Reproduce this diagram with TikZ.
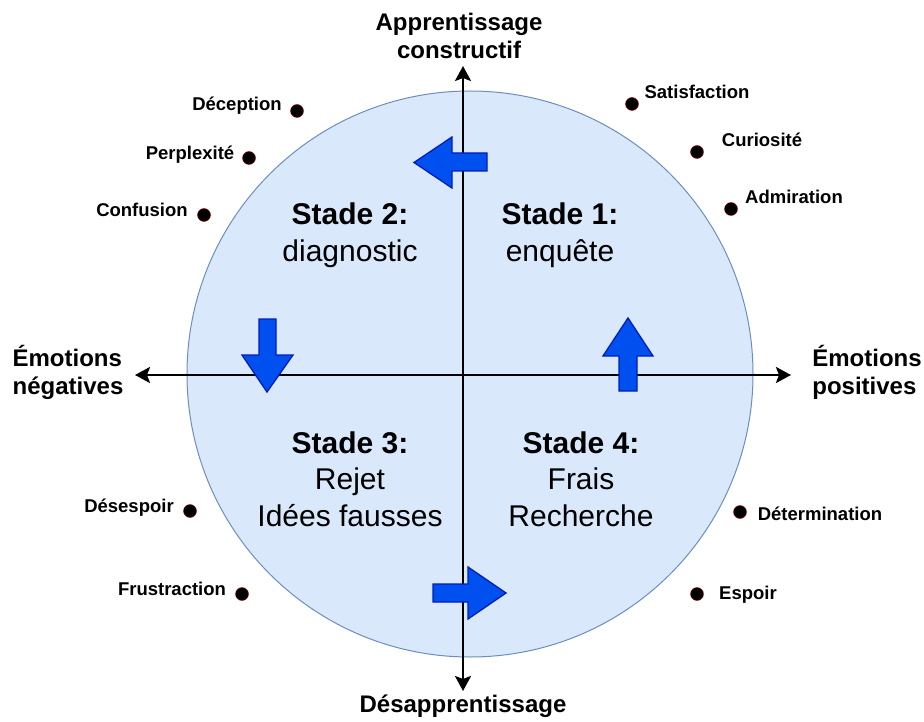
\documentclass[tikz,border=0pt]{standalone}
\usepackage{fontspec}
\setmainfont{Liberation Sans}
\usetikzlibrary{arrows.meta}
\definecolor{circfill}{HTML}{DAE8FC}
\definecolor{circline}{HTML}{6C8EBF}
\definecolor{arrfill}{HTML}{0050EF}
\definecolor{arrline}{HTML}{001DBC}
\definecolor{dotline}{HTML}{B20000}
\tikzset{
  axisline/.style={line width=2.6pt, -{Stealth[length=15pt,width=16pt,inset=3pt]}},
  blockarrow/.style={fill=arrfill, draw=arrline, line width=1.3pt, line join=miter},
  emo/.style={font=\fontsize{18.5}{22}\selectfont\bfseries, inner sep=0pt},
  emodot/.style={circle, fill=black, draw=dotline, line width=0.4pt, minimum size=13pt, inner sep=0pt},
  axislabel/.style={font=\fontsize{24}{28}\selectfont\bfseries, align=center, inner sep=0pt},
  stade/.style={font=\fontsize{30}{36.5}\selectfont, align=center, inner sep=0pt},
}
\begin{document}
\begin{tikzpicture}[x=1pt,y=-1pt]
\useasboundingbox (0,0) rectangle (924,722);
% circle
\node (circ) [circle, fill=circfill, draw=circline, line width=1pt, minimum size=566pt, inner sep=0pt] at (470,374) {};
% axes
\coordinate (ytop) at (463,66);
\coordinate (ybot) at (463,691);
\coordinate (xleft) at (135,375);
\coordinate (xright) at (791,375);
\coordinate (orig) at (463,375);
\draw[axisline] (orig) -- (ytop);
\draw[axisline] (orig) -- (ybot);
\draw[axisline] (orig) -- (xleft);
\draw[axisline] (orig) -- (xright);
% block arrows
\draw[blockarrow] (487,153) -- (452,153) -- (452,137) -- (414,162.5) -- (452,188) -- (452,171) -- (487,171) -- cycle;
\draw[blockarrow] (259,319) -- (259,355) -- (242,355) -- (267,392) -- (293,355) -- (276,355) -- (276,319) -- cycle;
\draw[blockarrow] (619,391) -- (619,356) -- (603,356) -- (628,318) -- (653,356) -- (637,356) -- (637,391) -- cycle;
\draw[blockarrow] (433,584) -- (468,584) -- (468,567) -- (506,593) -- (468,619) -- (468,602) -- (433,602) -- cycle;
% axis labels
\node (lblup) [axislabel] at (459,36) {Apprentissage\\constructif};
\node (lbldown) [axislabel] at (463,706) {Désapprentissage};
\node (lblneg) [axislabel, align=left] at (68,372) {Émotions\\négatives};
\node (lblpos) [axislabel, align=left] at (867,372) {Émotions\\positives};
% stades
\node (s2) [stade] at (350,235) {\textbf{Stade 2:}\\diagnostic};
\node (s1) [stade] at (560,235) {\textbf{Stade 1:}\\enquête};
\node (s3) [stade] at (350,479) {\textbf{Stade 3:}\\Rejet\\Idées fausses};
\node (s4) [stade] at (581,479) {\textbf{Stade 4:}\\Frais\\Recherche};
% emotions
\node (tdec) [emo] at (237,106) {Déception};
\node (ddec) [emodot] at (297,111) {};
\node (tper) [emo] at (190,155) {Perplexité};
\node (dper) [emodot] at (249,158) {};
\node (tcon) [emo] at (142,210) {Confusion};
\node (dcon) [emodot] at (204,215) {};
\node (tsat) [emo] at (697,92) {Satisfaction};
\node (dsat) [emodot] at (632,104) {};
\node (tcur) [emo] at (762,140) {Curiosité};
\node (dcur) [emodot] at (697,152) {};
\node (tadm) [emo] at (794,197) {Admiration};
\node (dadm) [emodot] at (731,209) {};
\node (tdes) [emo] at (129,508) {Désespoir};
\node (ddes) [emodot] at (190,511) {};
\node (tfru) [emo] at (172,589) {Frustraction};
\node (dfru) [emodot] at (242,594) {};
\node (tdet) [emo] at (820,514) {Détermination};
\node (ddet) [emodot] at (740,512) {};
\node (tesp) [emo] at (748,595) {Espoir};
\node (desp) [emodot] at (697,594) {};
\end{tikzpicture}
\end{document}
